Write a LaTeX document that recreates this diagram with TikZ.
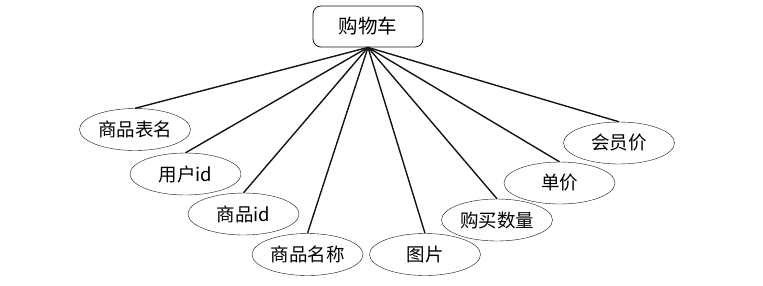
\documentclass[tikz,border=0pt]{standalone}
\usepackage{fontspec}
\setmainfont{Noto Sans CJK SC}
\usepackage{xcolor}
\usepackage{tikz}
\usetikzlibrary{shapes.geometric,positioning}
\definecolor{inkline}{RGB}{20,20,20}
\tikzset{
  entity/.style={rectangle,rounded corners=8pt,draw=inkline,thick,fill=white,
              minimum width=110pt,minimum height=41pt,align=center,font=\fontsize{19.5}{21}\selectfont},
  attr/.style={ellipse,draw=inkline,fill=white,inner sep=0pt,
              minimum width=111pt,minimum height=42pt,align=center,font=\fontsize{18.5}{20}\selectfont},
  link/.style={draw=inkline,line width=1.4pt},
}

\begin{document}
\begin{tikzpicture}[x=1pt,y=-1pt]
  \useasboundingbox (0,0) rectangle (763,285);
  \node[entity] (cart) at (368,26.5) {购物车};
  \node[attr] (tname) at (135,129.5) {商品表名};
  \node[attr] (uid) at (185.5,174) {用户id};
  \node[attr] (gid) at (243.5,214) {商品id};
  \node[attr] (gname) at (307.5,254.5) {商品名称};
  \node[attr] (pic) at (425,254.5) {图片};
  \node[attr] (qty) at (497,220) {购买数量};
  \node[attr] (price) at (559.5,183) {单价};
  \node[attr] (vip) at (619,143) {会员价};

  \foreach \a in {tname,uid,gid,gname,pic,qty,price,vip}
    \draw[link] (cart.south) -- (\a.north);
\end{tikzpicture}
\end{document}
